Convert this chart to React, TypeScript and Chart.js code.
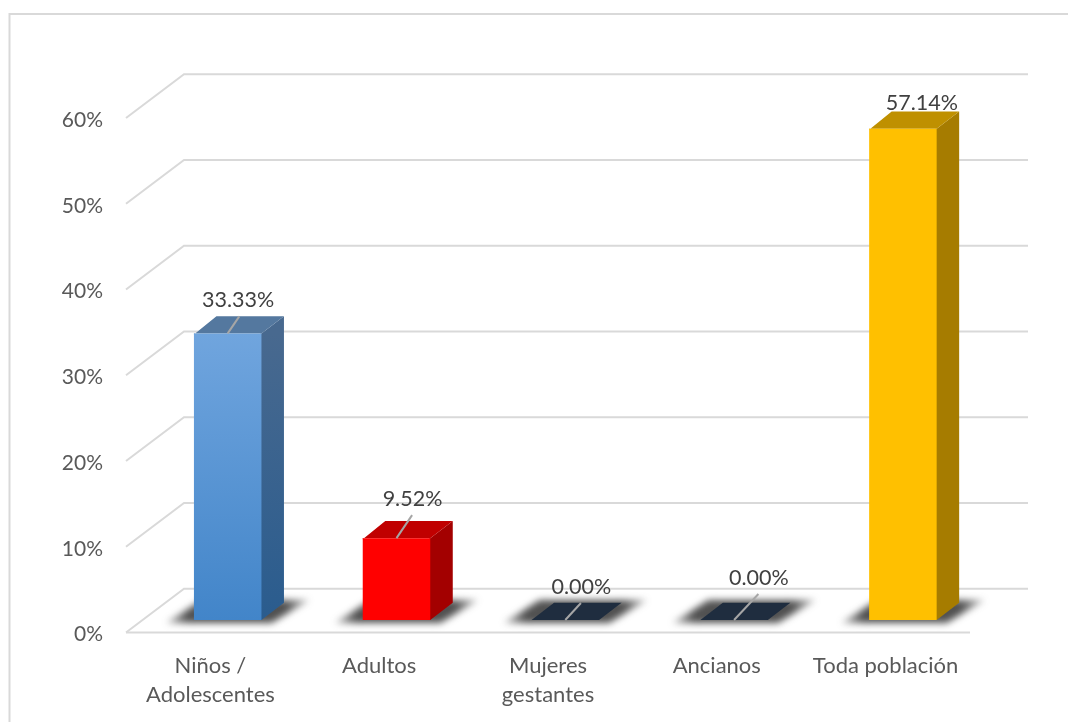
import React, { useEffect, useRef } from "react";
import { Chart, registerables } from "chart.js";

Chart.register(...registerables);

const categories: (string | string[])[] = [
  ["Niños /", "Adolescentes"],
  "Adultos",
  ["Mujeres", "gestantes"],
  "Ancianos",
  "Toda población",
];
const values = [33.33, 9.52, 0, 0, 57.14];
const valueLabels = ["33.33%", "9.52%", "0.00%", "0.00%", "57.14%"];
const yTicks = [0, 10, 20, 30, 40, 50, 60];

const frontTop = ["#70a5de", "#ff0000", "#1f2d3f", "#1f2d3f", "#ffc000"];
const frontBottom = ["#4285c9", "#ff0000", "#1f2d3f", "#1f2d3f", "#ffc000"];
const sideTop = ["#48698f", "#a30000", "#1f2d3f", "#1f2d3f", "#a67c00"];
const sideBottom = ["#2a5c8e", "#a30000", "#1f2d3f", "#1f2d3f", "#a67c00"];
const topFace = ["#54789f", "#c00000", "#1f2d3f", "#1f2d3f", "#bf9000"];

// label centre relative to the bar's top-front centre; leader line end relative to the same point
const labelOffsets = [[10.5, -33], [16, -39], [16, -33], [24.7, -42], [19, -26]];
const leaderEnds: (number[] | null)[] = [[11.6, -17], [15.6, -23], [15.6, -17], [24.3, -26], null];

const FONT = "Lato, Carlito, Calibri, 'Open Sans', sans-serif";
const WALL_DX = 58;
const WALL_DY = -43.7;
const BAR_DX = 17.3;
const BAR_BASE_DY = -12.5;
const BAR_K = 1.0027;
const DEPTH_DX = 22.5;
const DEPTH_DY = -17.2;

const threeD = {
  id: "threeD",
  beforeDraw(chart: any) {
    const { ctx } = chart;
    const { x, y } = chart.scales;
    ctx.save();
    // chart frame: only top and left edges are in the picture
    ctx.strokeStyle = "#d9d9d9";
    ctx.lineWidth = 2;
    ctx.beginPath();
    ctx.moveTo(1068, 14);
    ctx.lineTo(9.5, 14);
    ctx.lineTo(9.5, 722);
    ctx.stroke();
    // wall and floor grid
    ctx.lineWidth = 2;
    yTicks.forEach((t) => {
      const py = y.getPixelForValue(t);
      ctx.beginPath();
      ctx.moveTo(x.left, py);
      ctx.lineTo(x.left + WALL_DX, py + WALL_DY);
      ctx.lineTo(x.right + WALL_DX, py + WALL_DY);
      ctx.stroke();
    });
    const p0 = y.getPixelForValue(0);
    ctx.beginPath();
    ctx.moveTo(x.left, p0);
    ctx.lineTo(x.right, p0);
    ctx.stroke();
    ctx.restore();
  },
  beforeDatasetsDraw(chart: any) {
    const { ctx } = chart;
    const { y } = chart.scales;
    const y0 = y.getPixelForValue(0);
    const by = y0 + BAR_BASE_DY;
    const meta = chart.getDatasetMeta(0);
    // floor shadows
    meta.data.forEach((el: any) => {
      const L = el.x + BAR_DX - el.width / 2;
      const R = L + el.width;
      ctx.save();
      ctx.filter = "blur(3.5px)";
      const g = ctx.createLinearGradient(L - 30, 0, R + 50, 0);
      const span = R + 50 - (L - 30);
      g.addColorStop(0, "rgba(60,60,60,0.25)");
      g.addColorStop(24 / span, "rgba(50,50,50,0.85)");
      g.addColorStop((span - 26) / span, "rgba(50,50,50,0.85)");
      g.addColorStop(1, "rgba(60,60,60,0.25)");
      ctx.fillStyle = g;
      ctx.beginPath();
      ctx.moveTo(L - 28, by + 3);
      ctx.lineTo(R + 10, by + 3);
      ctx.lineTo(R + 48, by - 20);
      ctx.lineTo(L + 8, by - 20);
      ctx.closePath();
      ctx.fill();
      ctx.restore();
    });
    // side and top faces (run one pixel under the front face so no seam shows)
    meta.data.forEach((el: any, i: number) => {
      const L = el.x + BAR_DX - el.width / 2;
      const R = L + el.width;
      const t = by + (y.getPixelForValue(values[i]) - y0) * BAR_K;
      const g = ctx.createLinearGradient(0, t, 0, by);
      g.addColorStop(0, sideTop[i]);
      g.addColorStop(1, sideBottom[i]);
      ctx.fillStyle = g;
      ctx.beginPath();
      ctx.moveTo(R - 1, t);
      ctx.lineTo(R, t);
      ctx.lineTo(R + DEPTH_DX, t + DEPTH_DY);
      ctx.lineTo(R + DEPTH_DX, by + DEPTH_DY);
      ctx.lineTo(R, by);
      ctx.lineTo(R - 1, by);
      ctx.closePath();
      ctx.fill();
      ctx.fillStyle = topFace[i];
      ctx.beginPath();
      ctx.moveTo(L, t + (values[i] > 0 ? 1 : 0));
      ctx.lineTo(L, t);
      ctx.lineTo(R, t);
      ctx.lineTo(R + DEPTH_DX, t + DEPTH_DY);
      ctx.lineTo(L + DEPTH_DX, t + DEPTH_DY);
      ctx.closePath();
      ctx.fill();
    });
    // the front faces go onto the bar plane, in front of the wall
    ctx.save();
    ctx.transform(1, 0, 0, BAR_K, BAR_DX, by - y0 * BAR_K);
  },
  afterDatasetsDraw(chart: any) {
    const { ctx } = chart;
    ctx.restore();
    const { y } = chart.scales;
    const y0 = y.getPixelForValue(0);
    const by = y0 + BAR_BASE_DY;
    const meta = chart.getDatasetMeta(0);
    ctx.save();
    meta.data.forEach((el: any, i: number) => {
      const cx = el.x + BAR_DX;
      const t = by + (y.getPixelForValue(values[i]) - y0) * BAR_K;
      const end = leaderEnds[i];
      if (end) {
        ctx.strokeStyle = "#a6a6a6";
        ctx.lineWidth = 2;
        ctx.beginPath();
        ctx.moveTo(cx, t);
        ctx.lineTo(cx + end[0], t + end[1]);
        ctx.stroke();
      }
      ctx.fillStyle = "#404040";
      ctx.font = `21.5px ${FONT}`;
      ctx.textAlign = "center";
      ctx.textBaseline = "middle";
      ctx.fillText(valueLabels[i], cx + labelOffsets[i][0], t + labelOffsets[i][1]);
    });
    ctx.restore();
  },
};

export default function App() {
  const ref = useRef<HTMLCanvasElement>(null);
  useEffect(() => {
    const chart = new Chart(ref.current as HTMLCanvasElement, {
      type: "bar",
      data: {
        labels: categories as any,
        datasets: [
          {
            data: values,
            barPercentage: 0.4,
            categoryPercentage: 1,
            borderWidth: 0,
            backgroundColor: (c: any) => {
              const area = c.chart.chartArea;
              const i = c.dataIndex;
              if (!area || i === undefined) return frontBottom[0];
              const yScale = c.chart.scales.y;
              const g = c.chart.ctx.createLinearGradient(
                0,
                yScale.getPixelForValue(values[i]),
                0,
                yScale.getPixelForValue(0)
              );
              g.addColorStop(0, frontTop[i]);
              g.addColorStop(1, frontBottom[i]);
              return g;
            },
          },
        ],
      },
      options: {
        responsive: false,
        animation: false,
        layout: { padding: { left: 0, top: 118, right: 98, bottom: 0 } },
        plugins: { legend: { display: false }, tooltip: { enabled: false } },
        scales: {
          x: {
            grid: { display: false, drawTicks: false },
            border: { display: false },
            afterFit: (s: any) => {
              s.height = 89.5;
            },
            ticks: {
              color: "#595959",
              padding: 19,
              maxRotation: 0,
              autoSkip: false,
              font: { family: FONT, size: 22, lineHeight: 1.32 },
            },
          },
          y: {
            min: 0,
            max: 60,
            grid: { display: false, drawTicks: false },
            border: { display: false },
            afterFit: (s: any) => {
              s.width = 126;
            },
            afterBuildTicks: (s: any) => {
              s.ticks = yTicks.map((value) => ({ value }));
            },
            ticks: {
              color: "#595959",
              padding: 23,
              labelOffset: 2,
              font: { family: FONT, size: 21 },
              callback: (v: any) => `${v}%`,
            },
          },
        },
      },
      plugins: [threeD],
    } as any);
    return () => chart.destroy();
  }, []);
  return (
    <div style={{ position: "absolute", left: 0, top: 0, width: 1068, height: 722, background: "#fff" }}>
      <canvas ref={ref} width={1068} height={722} style={{ display: "block" }} />
    </div>
  );
}
